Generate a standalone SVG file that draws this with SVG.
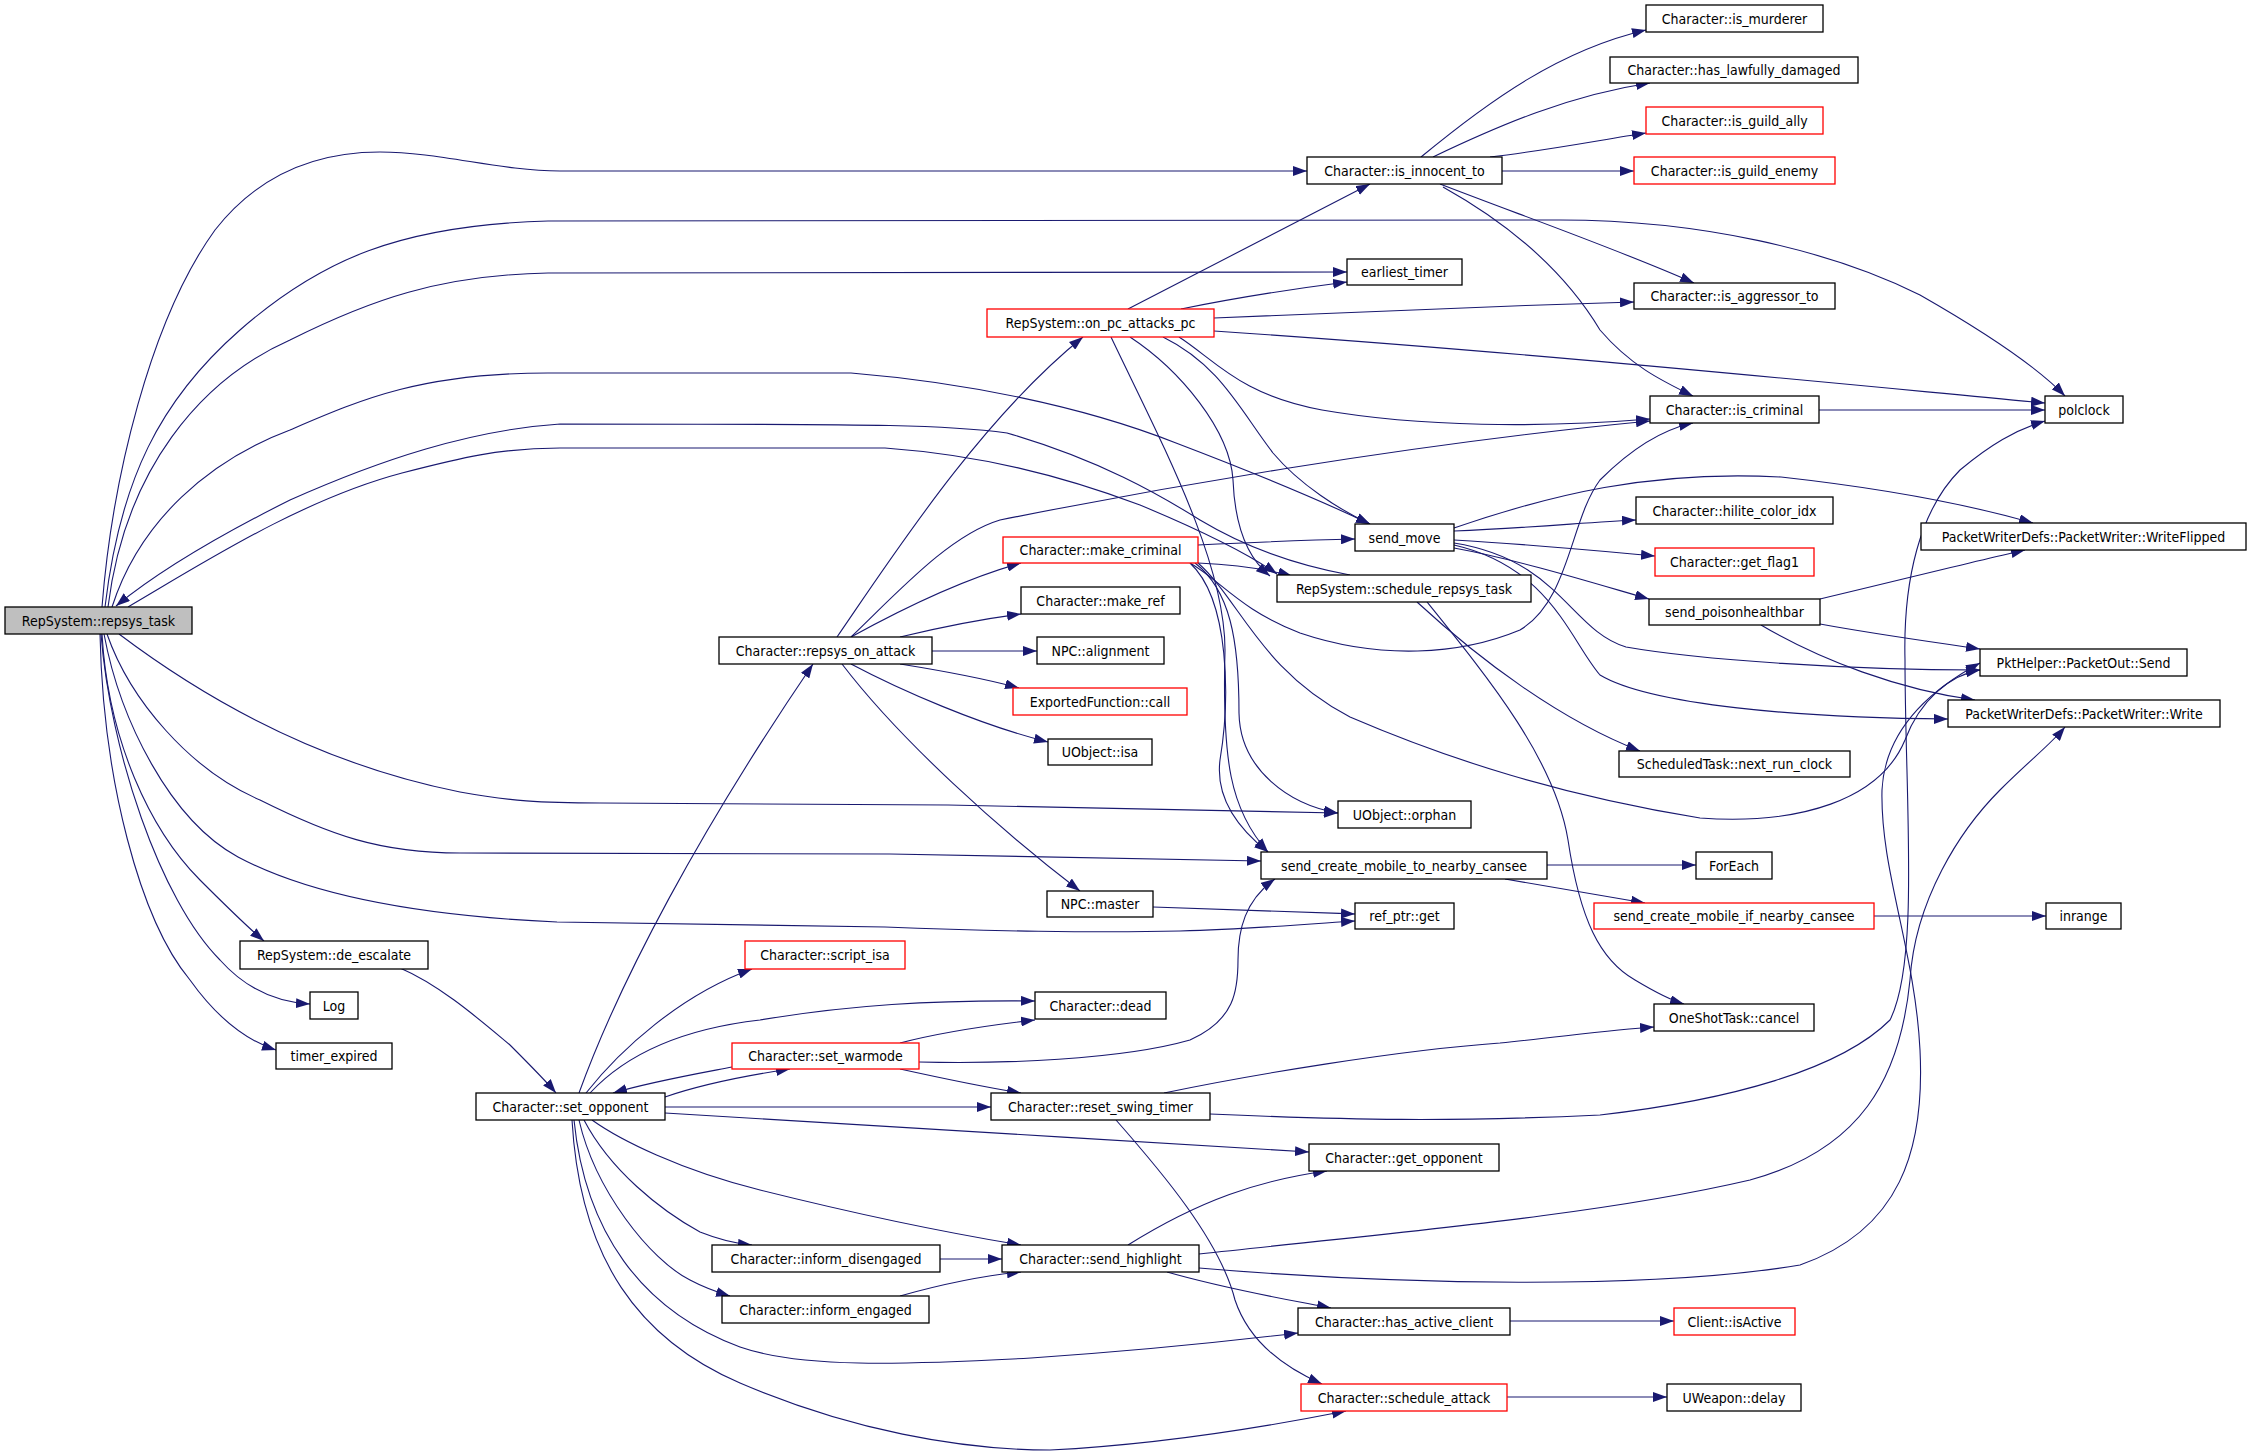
<svg xmlns="http://www.w3.org/2000/svg" width="2256" height="1455" viewBox="0 0 2256 1455">
<style>
.n rect{fill:#fff;stroke:#000;stroke-width:1.3}
.n.r rect{stroke:#f00}
.n.g rect{fill:#bfbfbf}
.n text{font-family:"DejaVu Sans Condensed","DejaVu Sans",sans-serif;font-stretch:condensed;font-size:14px;text-anchor:middle;fill:#000}
.e path{fill:none;stroke:#191970;stroke-width:1.1;marker-end:url(#a)}
</style>
<defs>
<marker id="a" markerWidth="14" markerHeight="10" refX="14" refY="5" orient="auto" markerUnits="userSpaceOnUse"><path d="M0,0 L14,5 L0,10 z" fill="#191970"/></marker>
</defs>
<rect width="2256" height="1455" fill="#fff"/>
<g id="edges" class="e">
<path d="M102,607 C112,480 150,320 215,230 C270,160 340,152 380,152 C440,152 500,171 560,171 L1307,171"/>
<path d="M105,607 C120,480 160,400 240,330 C320,260 400,225 548,221 L1560,220 C1700,220 1830,250 1920,295 C1990,335 2040,370 2065,396"/>
<path d="M108,607 C125,470 200,380 290,340 C370,300 440,275 548,273 L1347,272"/>
<path d="M112,607 C140,520 210,460 290,430 C360,400 420,373 548,373 L851,373 C960,382 1080,405 1176,443 C1260,475 1330,505 1370,524"/>
<path d="M128,607 C200,565 300,500 402,473 C460,458 500,448 560,448 L885,448 C980,455 1060,475 1140,505 C1200,530 1250,555 1277,574"/>
<path d="M1350,575 C1300,566 1250,550 1200,520 C1160,495 1100,460 1007,433 C950,425 900,424 560,424 C470,430 380,460 290,500 C220,535 160,570 116,606"/>
<path d="M119,634 C180,680 300,760 460,792 C510,801 540,803 600,803 L948,805 C1100,808 1250,811 1338,813"/>
<path d="M107,634 C130,700 190,770 260,800 C330,835 380,853 460,853 L890,854 C1050,856 1180,860 1261,861"/>
<path d="M104,634 C120,720 170,820 238,857 C300,890 400,915 557,922 L885,927 C980,931 1100,933 1180,931 C1250,929 1310,924 1355,921"/>
<path d="M102,634 C108,740 150,830 200,880 C225,905 245,925 264,941"/>
<path d="M101,634 C110,750 160,900 220,960 C245,988 275,1002 310,1004"/>
<path d="M100,634 C103,780 140,920 190,980 C215,1015 245,1040 276,1050"/>
<path d="M400,968 C440,985 480,1020 510,1045 C530,1065 545,1080 556,1093"/>
<path d="M579,1093 C620,980 700,830 813,664"/>
<path d="M586,1093 C620,1050 680,995 752,969"/>
<path d="M590,1093 C630,1050 690,1028 760,1020 C850,1005 930,1000 1035,1001"/>
<path d="M665,1097 C700,1085 750,1075 790,1069"/>
<path d="M732,1067 C690,1075 650,1082 613,1093"/>
<path d="M665,1107 L991,1107"/>
<path d="M665,1113 C800,1120 1100,1140 1309,1152"/>
<path d="M592,1120 C620,1140 680,1170 760,1190 C880,1220 960,1235 1021,1245"/>
<path d="M584,1120 C610,1170 660,1210 700,1232 C720,1240 740,1244 752,1245"/>
<path d="M579,1120 C595,1190 650,1260 690,1280 C705,1288 720,1293 730,1296"/>
<path d="M574,1120 C585,1230 640,1310 740,1347 C800,1368 900,1365 1031,1358 C1150,1350 1240,1340 1298,1333"/>
<path d="M572,1120 C580,1260 640,1340 740,1383 C850,1430 960,1450 1050,1450 C1150,1445 1250,1430 1346,1411"/>
<path d="M900,1043 C950,1030 1000,1024 1035,1020"/>
<path d="M900,1069 C950,1080 990,1088 1021,1093"/>
<path d="M919,1062 C1000,1064 1120,1060 1190,1040 C1235,1020 1238,990 1238,960 C1238,930 1245,900 1275,879"/>
<path d="M1164,1093 C1250,1075 1400,1050 1500,1043 C1560,1037 1610,1030 1654,1027"/>
<path d="M1210,1114 C1350,1120 1450,1122 1600,1115 C1730,1100 1840,1070 1890,1020 C1920,960 1905,800 1905,660 C1903,580 1920,510 1960,470 C1990,445 2015,430 2045,421"/>
<path d="M1116,1120 C1160,1170 1220,1240 1235,1300 C1250,1345 1290,1370 1322,1384"/>
<path d="M940,1259 L1002,1259"/>
<path d="M900,1296 C950,1282 990,1275 1021,1272"/>
<path d="M1128,1245 C1200,1200 1260,1180 1327,1171"/>
<path d="M1167,1272 C1230,1290 1290,1300 1331,1308"/>
<path d="M1199,1254 C1400,1232 1600,1215 1750,1180 C1860,1150 1900,1080 1910,980 C1915,900 1960,830 2000,790 C2030,760 2050,745 2065,727"/>
<path d="M1199,1268 C1400,1285 1650,1290 1800,1265 C1900,1230 1925,1150 1920,1050 C1915,950 1880,870 1882,790 C1885,730 1930,690 1980,663"/>
<path d="M1510,1321 L1674,1321"/>
<path d="M1507,1397 L1667,1397"/>
<path d="M837,637 C890,560 980,420 1083,337"/>
<path d="M851,637 C900,590 950,535 1000,520 C1150,490 1400,445 1650,421"/>
<path d="M851,637 C900,610 960,580 1021,563"/>
<path d="M900,637 C950,625 990,618 1021,614"/>
<path d="M932,651 L1037,651"/>
<path d="M900,664 C950,672 990,680 1019,688"/>
<path d="M851,664 C900,690 980,725 1048,742"/>
<path d="M842,664 C900,740 1000,830 1080,891"/>
<path d="M1153,907 C1250,910 1300,912 1355,914"/>
<path d="M1128,309 L1370,184"/>
<path d="M1181,309 C1250,295 1300,288 1347,282"/>
<path d="M1214,318 C1400,310 1500,306 1634,302"/>
<path d="M1214,331 C1500,350 1800,380 2045,403"/>
<path d="M1179,337 C1215,360 1240,395 1322,410 C1420,427 1540,428 1650,419"/>
<path d="M1163,337 C1220,365 1240,410 1273,453 C1300,485 1340,510 1370,524"/>
<path d="M1130,337 C1180,370 1230,430 1233,480 C1235,530 1250,560 1270,576"/>
<path d="M1111,337 C1160,440 1225,560 1225,650 C1222,760 1230,810 1268,852"/>
<path d="M1198,545 C1260,542 1310,540 1355,539"/>
<path d="M1198,563 C1240,565 1270,570 1292,576"/>
<path d="M1190,563 C1220,580 1240,610 1300,633 C1380,660 1460,655 1520,630 C1570,600 1570,520 1600,480 C1630,450 1660,430 1693,423"/>
<path d="M1195,563 C1230,590 1239,640 1239,713 C1240,770 1290,805 1338,813"/>
<path d="M1190,563 C1230,600 1230,700 1220,760 C1215,800 1240,830 1268,852"/>
<path d="M1198,563 C1240,600 1260,670 1350,717 C1450,760 1560,795 1700,818 C1800,825 1880,800 1905,740 C1920,700 1950,675 1980,670"/>
<path d="M1421,157 C1490,100 1560,50 1646,30"/>
<path d="M1433,157 C1500,125 1570,95 1650,83"/>
<path d="M1490,157 C1550,150 1600,140 1646,133"/>
<path d="M1502,171 L1634,171"/>
<path d="M1440,184 C1520,215 1620,250 1694,283"/>
<path d="M1443,187 C1520,230 1570,280 1600,330 C1630,365 1660,380 1693,396"/>
<path d="M1819,410 L2045,410"/>
<path d="M1454,531 C1530,528 1590,522 1636,520"/>
<path d="M1454,540 C1540,545 1610,552 1655,556"/>
<path d="M1454,548 C1520,560 1600,585 1649,599"/>
<path d="M1454,528 C1550,495 1650,470 1781,477 C1880,488 1970,505 2033,523"/>
<path d="M1454,543 C1560,560 1570,630 1626,647 C1700,660 1850,670 1980,670"/>
<path d="M1454,545 C1550,567 1570,640 1600,675 C1650,705 1800,718 1948,719"/>
<path d="M1820,599 C1900,580 1980,560 2025,550"/>
<path d="M1820,624 C1880,635 1940,643 1980,649"/>
<path d="M1761,625 C1820,660 1900,690 1975,700"/>
<path d="M1417,602 C1480,660 1560,720 1640,751"/>
<path d="M1427,602 C1490,680 1555,760 1568,840 C1580,920 1600,960 1635,980 C1655,992 1670,1000 1684,1004"/>
<path d="M1547,865 L1696,865"/>
<path d="M1505,879 C1560,888 1610,897 1645,903"/>
<path d="M1874,916 L2046,916"/>
</g>
<g id="n_repsys_task" class="n g"><rect x="5" y="607" width="187" height="27"/><text x="98.5" y="625.5">RepSystem::repsys_task</text></g>
<g id="n_is_innocent_to" class="n"><rect x="1307" y="157" width="195" height="27"/><text x="1404.5" y="175.5">Character::is_innocent_to</text></g>
<g id="n_earliest_timer" class="n"><rect x="1347" y="259" width="115" height="26"/><text x="1404.5" y="277">earliest_timer</text></g>
<g id="n_on_pc_attacks_pc" class="n r"><rect x="987" y="309" width="227" height="28"/><text x="1100.5" y="328">RepSystem::on_pc_attacks_pc</text></g>
<g id="n_is_murderer" class="n"><rect x="1646" y="5" width="177" height="27"/><text x="1734.5" y="23.5">Character::is_murderer</text></g>
<g id="n_has_lawfully_damaged" class="n"><rect x="1610" y="57" width="248" height="26"/><text x="1734" y="75">Character::has_lawfully_damaged</text></g>
<g id="n_is_guild_ally" class="n r"><rect x="1646" y="107" width="177" height="27"/><text x="1734.5" y="125.5">Character::is_guild_ally</text></g>
<g id="n_is_guild_enemy" class="n r"><rect x="1634" y="157" width="201" height="27"/><text x="1734.5" y="175.5">Character::is_guild_enemy</text></g>
<g id="n_is_aggressor_to" class="n"><rect x="1634" y="283" width="201" height="26"/><text x="1734.5" y="301">Character::is_aggressor_to</text></g>
<g id="n_is_criminal" class="n"><rect x="1650" y="396" width="169" height="27"/><text x="1734.5" y="414.5">Character::is_criminal</text></g>
<g id="n_polclock" class="n"><rect x="2045" y="396" width="78" height="27"/><text x="2084" y="414.5">polclock</text></g>
<g id="n_de_escalate" class="n"><rect x="240" y="941" width="188" height="28"/><text x="334" y="960">RepSystem::de_escalate</text></g>
<g id="n_repsys_on_attack" class="n"><rect x="719" y="637" width="213" height="27"/><text x="825.5" y="655.5">Character::repsys_on_attack</text></g>
<g id="n_make_criminal" class="n r"><rect x="1003" y="537" width="195" height="26"/><text x="1100.5" y="555">Character::make_criminal</text></g>
<g id="n_send_move" class="n"><rect x="1355" y="524" width="99" height="27"/><text x="1404.5" y="542.5">send_move</text></g>
<g id="n_schedule_repsys_task" class="n"><rect x="1277" y="575" width="254" height="27"/><text x="1404" y="593.5">RepSystem::schedule_repsys_task</text></g>
<g id="n_make_ref" class="n"><rect x="1021" y="587" width="159" height="27"/><text x="1100.5" y="605.5">Character::make_ref</text></g>
<g id="n_alignment" class="n"><rect x="1037" y="637" width="127" height="27"/><text x="1100.5" y="655.5">NPC::alignment</text></g>
<g id="n_call" class="n r"><rect x="1013" y="688" width="174" height="27"/><text x="1100" y="706.5">ExportedFunction::call</text></g>
<g id="n_isa" class="n"><rect x="1048" y="739" width="104" height="26"/><text x="1100" y="757">UObject::isa</text></g>
<g id="n_orphan" class="n"><rect x="1338" y="801" width="133" height="27"/><text x="1404.5" y="819.5">UObject::orphan</text></g>
<g id="n_scmtnc" class="n"><rect x="1261" y="852" width="286" height="27"/><text x="1404" y="870.5">send_create_mobile_to_nearby_cansee</text></g>
<g id="n_master" class="n"><rect x="1047" y="891" width="106" height="26"/><text x="1100" y="909">NPC::master</text></g>
<g id="n_ref_ptr_get" class="n"><rect x="1355" y="903" width="99" height="26"/><text x="1404.5" y="921">ref_ptr::get</text></g>
<g id="n_script_isa" class="n r"><rect x="745" y="941" width="160" height="28"/><text x="825" y="960">Character::script_isa</text></g>
<g id="n_hilite_color_idx" class="n"><rect x="1636" y="497" width="197" height="27"/><text x="1734.5" y="515.5">Character::hilite_color_idx</text></g>
<g id="n_writeflipped" class="n"><rect x="1921" y="523" width="325" height="27"/><text x="2083.5" y="541.5">PacketWriterDefs::PacketWriter::WriteFlipped</text></g>
<g id="n_get_flag1" class="n r"><rect x="1655" y="548" width="159" height="28"/><text x="1734.5" y="567">Character::get_flag1</text></g>
<g id="n_send_poisonhealthbar" class="n"><rect x="1649" y="599" width="171" height="26"/><text x="1734.5" y="617">send_poisonhealthbar</text></g>
<g id="n_packetout_send" class="n"><rect x="1980" y="649" width="207" height="27"/><text x="2083.5" y="667.5">PktHelper::PacketOut::Send</text></g>
<g id="n_write" class="n"><rect x="1948" y="700" width="272" height="27"/><text x="2084" y="718.5">PacketWriterDefs::PacketWriter::Write</text></g>
<g id="n_next_run_clock" class="n"><rect x="1619" y="751" width="231" height="26"/><text x="1734.5" y="769">ScheduledTask::next_run_clock</text></g>
<g id="n_foreach" class="n"><rect x="1696" y="852" width="76" height="27"/><text x="1734" y="870.5">ForEach</text></g>
<g id="n_scminc" class="n r"><rect x="1594" y="903" width="280" height="26"/><text x="1734" y="921">send_create_mobile_if_nearby_cansee</text></g>
<g id="n_inrange" class="n"><rect x="2046" y="903" width="75" height="26"/><text x="2083.5" y="921">inrange</text></g>
<g id="n_log" class="n"><rect x="310" y="992" width="48" height="27"/><text x="334" y="1010.5">Log</text></g>
<g id="n_timer_expired" class="n"><rect x="276" y="1043" width="116" height="26"/><text x="334" y="1061">timer_expired</text></g>
<g id="n_set_opponent" class="n"><rect x="476" y="1093" width="189" height="27"/><text x="570.5" y="1111.5">Character::set_opponent</text></g>
<g id="n_set_warmode" class="n r"><rect x="732" y="1043" width="187" height="26"/><text x="825.5" y="1061">Character::set_warmode</text></g>
<g id="n_inform_disengaged" class="n"><rect x="712" y="1245" width="228" height="27"/><text x="826" y="1263.5">Character::inform_disengaged</text></g>
<g id="n_inform_engaged" class="n"><rect x="722" y="1296" width="207" height="27"/><text x="825.5" y="1314.5">Character::inform_engaged</text></g>
<g id="n_dead" class="n"><rect x="1035" y="992" width="131" height="27"/><text x="1100.5" y="1010.5">Character::dead</text></g>
<g id="n_reset_swing_timer" class="n"><rect x="991" y="1093" width="219" height="27"/><text x="1100.5" y="1111.5">Character::reset_swing_timer</text></g>
<g id="n_get_opponent" class="n"><rect x="1309" y="1144" width="190" height="27"/><text x="1404" y="1162.5">Character::get_opponent</text></g>
<g id="n_send_highlight" class="n"><rect x="1002" y="1245" width="197" height="27"/><text x="1100.5" y="1263.5">Character::send_highlight</text></g>
<g id="n_has_active_client" class="n"><rect x="1298" y="1308" width="212" height="27"/><text x="1404" y="1326.5">Character::has_active_client</text></g>
<g id="n_schedule_attack" class="n r"><rect x="1301" y="1384" width="206" height="27"/><text x="1404" y="1402.5">Character::schedule_attack</text></g>
<g id="n_cancel" class="n"><rect x="1654" y="1004" width="160" height="27"/><text x="1734" y="1022.5">OneShotTask::cancel</text></g>
<g id="n_isactive" class="n r"><rect x="1674" y="1308" width="121" height="27"/><text x="1734.5" y="1326.5">Client::isActive</text></g>
<g id="n_delay" class="n"><rect x="1667" y="1384" width="134" height="27"/><text x="1734" y="1402.5">UWeapon::delay</text></g>
</svg>
